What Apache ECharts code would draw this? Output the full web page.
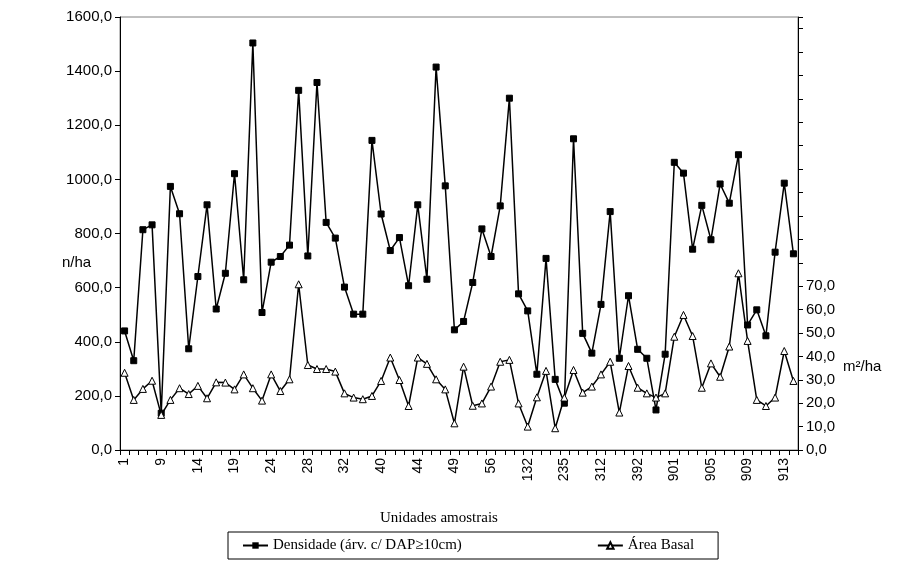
<!DOCTYPE html>
<html>
<head>
<meta charset="utf-8">
<script src="https://cdn.jsdelivr.net/npm/echarts@6/dist/echarts.min.js"></script>
<style>html,body{margin:0;padding:0;background:#fff;}#c{width:921px;height:581px;}</style>
</head>
<body>
<div id="c"></div>
<script>
const categories = ['1','3','5','7','9','10','12','13','14','15','17','18','19','20','22','23','24','25','26','27','28','29','30','31','32','34','36','38','40','41','42','43','44','45','47','48','49','51','53','54','56','57','59','60','132','133','134','135','235','236','237','238','312','313','314','315','392','393','394','395','901','902','903','904','905','906','907','908','909','910','911','912','913','914'];

const densidade = [440,330,814,832,136,974,873,374,641,906,521,653,1021,629,1504,508,694,715,757,1329,717,1358,841,783,602,502,502,1144,872,737,785,607,906,631,1415,976,444,475,619,817,715,902,1300,577,514,280,708,261,173,1150,431,358,538,881,339,570,372,339,148,354,1063,1023,742,904,777,983,912,1091,462,518,422,731,986,725];

const areaBasal = [33.0,21.4,26.1,29.6,15.0,21.4,26.4,23.9,27.4,22.1,28.9,28.8,25.9,32.3,26.4,21.1,32.3,25.2,30.2,70.8,36.3,34.6,34.6,33.5,24.2,22.4,21.7,23.1,29.5,39.5,29.9,18.8,39.5,36.8,30.2,25.9,11.4,35.6,18.9,19.9,27.1,37.7,38.5,19.9,10.0,22.5,33.8,9.3,22.4,34.2,24.5,27.1,32.3,37.7,16.0,35.9,26.6,24.2,22.4,24.2,48.4,57.7,48.7,26.6,37.0,31.3,44.2,75.5,46.6,21.4,18.8,22.4,42.3,29.5];

const leftTicks = {min:0, max:1600, interval:200};
const rightTicks = {min:0, max:185, interval:10, lastLabel:70};

const fmt = v => v.toFixed(1).replace('.', ',');
const sans = 'Liberation Sans, Arial, sans-serif';
const serif = 'Liberation Serif, Times New Roman, serif';

const chart = echarts.init(document.getElementById('c'), null, {renderer:'canvas'});
chart.setOption({
  animation:false,
  backgroundColor:'#ffffff',
  grid:{left:120, right:123, top:17, bottom:131, show:true, borderColor:'#808080', borderWidth:1, backgroundColor:'transparent'},
  legend:{
    bottom:22, left:228,
    data:['Densidade (árv. c/ DAP≥10cm)','Área Basal'],
    borderColor:'#000', borderWidth:1, padding:[6,24,6,14],
    itemGap:135, itemWidth:25, itemHeight:8,
    textStyle:{fontFamily:serif, fontSize:15, color:'#000'}
  },
  xAxis:{
    type:'category', data:categories, boundaryGap:true,
    axisLine:{show:true, lineStyle:{color:'#000', width:1}},
    axisTick:{show:true, interval:0, length:5, inside:false, lineStyle:{color:'#000'}},
    axisLabel:{interval:3, rotate:90, fontFamily:sans, fontSize:14, color:'#000', margin:8},
    splitLine:{show:false}
  },
  yAxis:[
    {type:'value', min:leftTicks.min, max:leftTicks.max, interval:leftTicks.interval, position:'left',
     axisLine:{show:true, lineStyle:{color:'#000'}},
     axisTick:{show:true, length:5, lineStyle:{color:'#000'}},
     axisLabel:{formatter:fmt, fontFamily:sans, fontSize:15, color:'#000', margin:8},
     splitLine:{show:false}},
    {type:'value', min:rightTicks.min, max:rightTicks.max, interval:rightTicks.interval, position:'right',
     axisLine:{show:true, onZero:false, lineStyle:{color:'#000'}},
     axisTick:{show:true, length:5, lineStyle:{color:'#000'}},
     axisLabel:{formatter:v => v <= rightTicks.lastLabel ? fmt(v) : '', fontFamily:sans, fontSize:15, color:'#000', margin:8},
     splitLine:{show:false}}
  ],
  graphic:[
    {type:'text', left:62, top:255, style:{text:'n/ha', font:'15px '+sans, fill:'#000'}},
    {type:'text', left:843, top:359, style:{text:'m²/ha', font:'15px '+sans, fill:'#000'}},
    {type:'text', left:380, top:511, style:{text:'Unidades amostrais', font:'15px '+serif, fill:'#000'}}
  ],
  series:[
    {name:'Densidade (árv. c/ DAP≥10cm)', type:'line', yAxisIndex:0, data:densidade,
     symbol:'rect', symbolSize:6, showAllSymbol:true,
     lineStyle:{color:'#000', width:1.5}, itemStyle:{color:'#000', borderColor:'#000'}},
    {name:'Área Basal', type:'line', yAxisIndex:1, data:areaBasal,
     symbol:'triangle', symbolSize:7, showAllSymbol:true,
     lineStyle:{color:'#000', width:1.5}, itemStyle:{color:'#fff', borderColor:'#000', borderWidth:1}}
  ]
});
</script>
</body>
</html>
